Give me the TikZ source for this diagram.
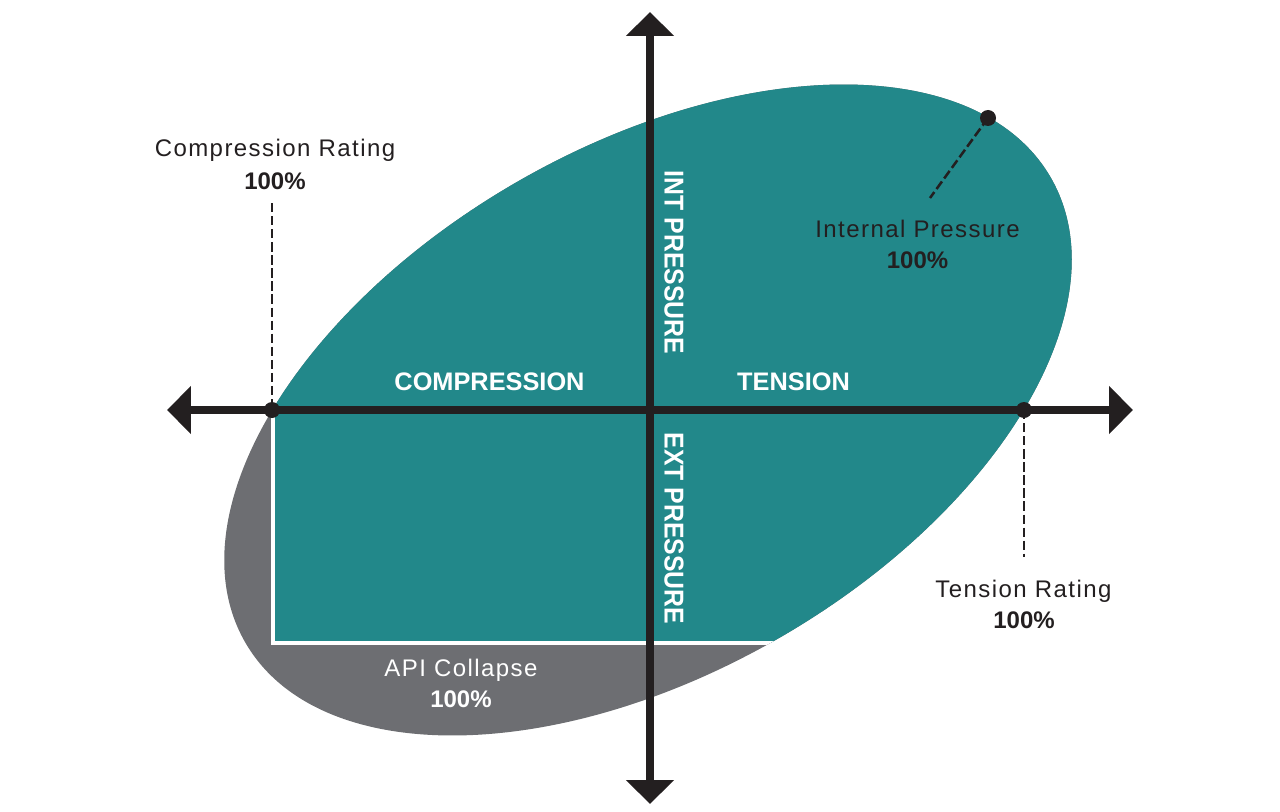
\documentclass[tikz,border=0pt]{standalone}
\usepackage{fontspec}
\usepackage{graphicx}
\setmainfont{Liberation Sans}
\newfontfamily\lblfont[LetterSpace=6]{Liberation Sans}
\usetikzlibrary{arrows.meta}
\definecolor{tealfill}{HTML}{22888A}
\definecolor{grayfill}{HTML}{6D6E72}
\definecolor{inkblack}{HTML}{231F20}
\tikzset{
  axisline/.style={draw=inkblack, line width=5.6pt,
    {Triangle[length=18pt,width=35pt]}-{Triangle[length=18pt,width=35pt]}},
  dotmark/.style={circle, fill=inkblack, inner sep=0pt, minimum size=12pt},
  leader/.style={draw=inkblack, line width=1.9pt, dash pattern=on 7pt off 2.8pt},
  thinlabel/.style={inner sep=0pt, anchor=base, text=inkblack, font=\lblfont\fontsize{18}{20}\selectfont},
  boldlabel/.style={inner sep=0pt, anchor=base, text=inkblack, font=\bfseries\fontsize{18}{20}\selectfont},
  quadlabel/.style={inner sep=0pt, anchor=base, text=white, font=\bfseries\fontsize{19}{21}\selectfont},
  vertlabel/.style={inner sep=0pt, anchor=center, rotate=-90, text=white, font=\bfseries\fontsize{18.6}{21}\selectfont},
  ellrot/.style={rotate around={30:(-2,0)}}
}
\begin{document}
\begin{tikzpicture}[x=0.75pt,y=0.75pt]
\useasboundingbox (-650,-401) rectangle (630,410);
% gray full ellipse
\fill[grayfill, ellrot] (-2,0) ellipse [x radius=465, y radius=263];
% teal part
\begin{scope}
  \clip[ellrot] (-2,0) ellipse [x radius=465, y radius=263];
  \fill[tealfill] (-700,0) rectangle (700,500);
  \fill[tealfill] (-377,1) rectangle (700,-233);
  \draw[white, line width=3pt] (-377,0) -- (-377,-233) -- (700,-233);
\end{scope}
% axis ends
\coordinate (xl) at (-483,0);
\coordinate (xr) at (483,0);
\coordinate (yt) at (0,398);
\coordinate (yb) at (0,-394);
\draw[axisline] (xl) -- (xr);
\draw[axisline] (yt) -- (yb);
% dots
\node[dotmark] (cr) at (-378,0) {};
\node[dotmark] (tr) at (374,0) {};
\node[dotmark] (ip) at (338,292) {};
\coordinate (crtop) at (-378,207);
\coordinate (trbot) at (374,-147);
\coordinate (ipend) at (280,212);
\draw[leader] (crtop) -- (cr.center);
\draw[leader] (tr.center) -- (trbot);
\draw[leader] (ip.center) -- (ipend);
% labels
\node[thinlabel] (crl) at (-375,253) {Compression Rating};
\node[boldlabel] (crp) at (-375,221) {100\%};
\node[thinlabel] (ipl) at (267.5,173) {Internal Pressure};
\node[boldlabel] (ipp) at (267.5,142) {100\%};
\node[thinlabel] (trl) at (373.5,-187) {Tension Rating};
\node[boldlabel] (trp) at (374,-218) {100\%};
\node[thinlabel, text=white] (apl) at (-189,-266) {API Collapse};
\node[boldlabel, text=white] (app) at (-189,-297) {100\%};
\node[quadlabel] (comp) at (-160.5,20) {COMPRESSION};
\node[quadlabel] (tens) at (143.5,20) {TENSION};
\node[vertlabel] (intp) at (24,147.5) {\scalebox{1}[1.1]{INT PRESSURE}};
\node[vertlabel] (extp) at (24,-118.5) {\scalebox{1}[1.1]{EXT PRESSURE}};
\end{tikzpicture}
\end{document}
